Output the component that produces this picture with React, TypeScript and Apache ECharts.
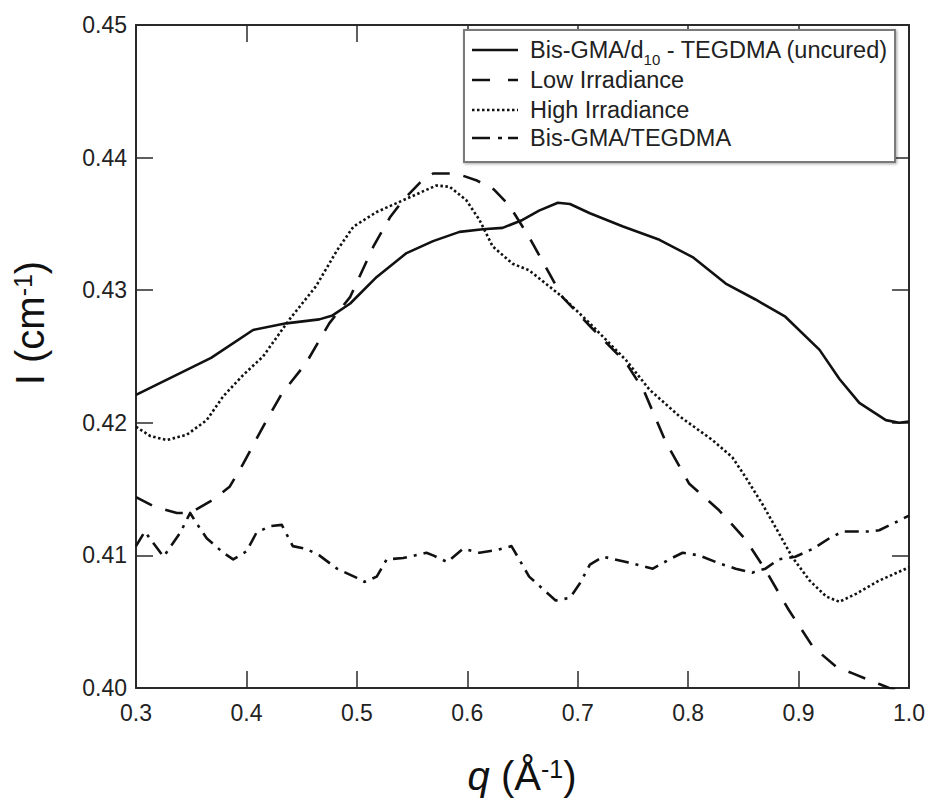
import React, { useEffect, useRef } from "react";
import * as echarts from "echarts";

// q values (Å^-1) and intensities I (cm^-1)
const qUncured = [0.300, 0.368, 0.406, 0.436, 0.466, 0.478, 0.494, 0.518, 0.545, 0.569, 0.593, 0.614, 0.632, 0.650, 0.665, 0.682, 0.693, 0.711, 0.741, 0.774, 0.804, 0.834, 0.861, 0.888, 0.919, 0.937, 0.955, 0.979, 0.991, 1.000];
const iUncured = [0.4221, 0.4249, 0.4270, 0.4275, 0.4278, 0.4281, 0.4290, 0.4310, 0.4328, 0.4337, 0.4344, 0.4346, 0.4347, 0.4353, 0.4360, 0.4366, 0.4365, 0.4358, 0.4348, 0.4338, 0.4325, 0.4305, 0.4293, 0.4280, 0.4255, 0.4233, 0.4215, 0.4202, 0.4200, 0.4201];

const qLow = [0.300, 0.316, 0.337, 0.349, 0.370, 0.385, 0.397, 0.415, 0.432, 0.454, 0.475, 0.494, 0.515, 0.530, 0.542, 0.557, 0.569, 0.590, 0.608, 0.624, 0.638, 0.656, 0.674, 0.686, 0.711, 0.744, 0.760, 0.780, 0.801, 0.828, 0.852, 0.870, 0.891, 0.913, 0.934, 0.949, 0.973, 0.982, 1.000];
const iLow = [0.4144, 0.4137, 0.4132, 0.4132, 0.4142, 0.4152, 0.4169, 0.4197, 0.4222, 0.4245, 0.4275, 0.4295, 0.4333, 0.4355, 0.4368, 0.4381, 0.4388, 0.4388, 0.4383, 0.4376, 0.4364, 0.4340, 0.4313, 0.4295, 0.4273, 0.4245, 0.4224, 0.4185, 0.4154, 0.4134, 0.4112, 0.4089, 0.4059, 0.4031, 0.4016, 0.4011, 0.4003, 0.4000, 0.3996];

const qHigh = [0.300, 0.313, 0.328, 0.346, 0.364, 0.379, 0.397, 0.415, 0.439, 0.463, 0.482, 0.497, 0.518, 0.545, 0.572, 0.584, 0.599, 0.611, 0.623, 0.641, 0.656, 0.686, 0.711, 0.744, 0.765, 0.792, 0.822, 0.840, 0.852, 0.867, 0.882, 0.894, 0.910, 0.925, 0.937, 0.952, 0.973, 1.000];
const iHigh = [0.4197, 0.4190, 0.4187, 0.4191, 0.4202, 0.4220, 0.4236, 0.4250, 0.4278, 0.4303, 0.4330, 0.4348, 0.4359, 0.4369, 0.4379, 0.4378, 0.4368, 0.4353, 0.4333, 0.4320, 0.4315, 0.4295, 0.4275, 0.4247, 0.4225, 0.4205, 0.4187, 0.4174, 0.4159, 0.4139, 0.4117, 0.4099, 0.4081, 0.4069, 0.4065, 0.4071, 0.4081, 0.4091];

const qBase = [0.300, 0.308, 0.316, 0.325, 0.340, 0.349, 0.355, 0.364, 0.379, 0.388, 0.400, 0.409, 0.421, 0.432, 0.442, 0.454, 0.466, 0.482, 0.500, 0.507, 0.518, 0.527, 0.542, 0.563, 0.569, 0.582, 0.596, 0.611, 0.626, 0.640, 0.647, 0.656, 0.668, 0.680, 0.693, 0.702, 0.711, 0.723, 0.744, 0.768, 0.783, 0.795, 0.810, 0.828, 0.843, 0.858, 0.870, 0.882, 0.897, 0.913, 0.928, 0.940, 0.964, 0.973, 0.988, 1.000];
const iBase = [0.4107, 0.4118, 0.4109, 0.4099, 0.4117, 0.4132, 0.4124, 0.4113, 0.4102, 0.4097, 0.4103, 0.4117, 0.4122, 0.4123, 0.4107, 0.4105, 0.4100, 0.4090, 0.4083, 0.4080, 0.4084, 0.4097, 0.4098, 0.4102, 0.4100, 0.4095, 0.4105, 0.4102, 0.4104, 0.4107, 0.4097, 0.4084, 0.4075, 0.4066, 0.4068, 0.4079, 0.4093, 0.4099, 0.4095, 0.4090, 0.4097, 0.4102, 0.4100, 0.4094, 0.4090, 0.4087, 0.4090, 0.4097, 0.4099, 0.4105, 0.4113, 0.4118, 0.4118, 0.4119, 0.4125, 0.4130];

const seriesNames = ["Bis-GMA/d10 - TEGDMA (uncured)", "Low Irradiance", "High Irradiance", "Bis-GMA/TEGDMA"];

const FONT = "'Liberation Sans', Arial, Helvetica, sans-serif";

function pairs(q: number[], v: number[]) {
  return q.map((x, i) => [x, v[i]]);
}

export default function App() {
  const ref = useRef<HTMLDivElement>(null);
  useEffect(() => {
    document.body.style.margin = "0";
    const chart = echarts.init(ref.current!, null, { renderer: "svg" });
    const axisLine = { show: true, lineStyle: { color: "#2a2a2a", width: 2 } };
    const tick = { show: true, inside: true, length: 17, lineStyle: { color: "#2a2a2a", width: 1.5 } };
    const lineCol = "#111";
    const legendRows = [50, 80, 110, 138];
    const lx1 = 472, lx2 = 518, ltx = 530;
    const dashes: any[] = [null, [18, 18], [2.5, 2.5], [18, 8, 4, 6]];
    const legendGraphics: any[] = [
      {
        type: "rect",
        z: 100,
        shape: { x: 464, y: 30, width: 431, height: 132 },
        style: { fill: "#fff", stroke: "#7a7a7a", lineWidth: 2, shadowBlur: 3, shadowColor: "rgba(0,0,0,0.35)", shadowOffsetX: 1, shadowOffsetY: 1 },
      },
    ];
    legendRows.forEach((y, i) => {
      legendGraphics.push({
        type: "line",
        z: 101,
        shape: { x1: lx1, y1: y, x2: lx2, y2: y },
        style: { stroke: lineCol, lineWidth: 2.5, lineDash: dashes[i] || undefined, lineCap: "butt" },
      });
      const txt = i === 0 ? "{a|Bis-GMA/d}{s|10}{a| - TEGDMA (uncured)}" : `{a|${seriesNames[i]}}`;
      legendGraphics.push({
        type: "text",
        z: 101,
        x: ltx,
        y: i === 0 ? y + 2 : y,
        style: {
          text: txt,
          fill: "#222",
          font: `23.5px ${FONT}`,
          verticalAlign: "middle",
          align: "left",
          rich: {
            a: { fontSize: 23.5, fontFamily: FONT, fill: "#222", lineHeight: i === 0 ? 30 : 24, padding: i === 0 ? [0, 0, 4, 0] : 0 },
            s: { fontSize: 15, fontFamily: FONT, fill: "#222", lineHeight: 15, verticalAlign: "bottom" },
          },
        },
      });
    });

    const option: any = {
      animation: false,
      backgroundColor: "#fff",
      grid: { left: 136, right: 18, top: 25, bottom: 110, containLabel: false },
      xAxis: [
        {
          type: "value",
          min: 0.3,
          max: 1.0,
          interval: 0.1,
          position: "bottom",
          axisLine,
          axisTick: tick,
          splitLine: { show: false },
          axisLabel: { color: "#222", fontSize: 23, fontFamily: FONT, margin: 13, formatter: (v: number) => v.toFixed(1) },
        },
        {
          type: "value",
          min: 0.3,
          max: 1.0,
          interval: 0.1,
          position: "top",
          axisLine,
          axisTick: tick,
          splitLine: { show: false },
          axisLabel: { show: false },
        },
      ],
      yAxis: [
        {
          type: "value",
          min: 0.4,
          max: 0.45,
          interval: 0.01,
          position: "left",
          axisLine,
          axisTick: tick,
          splitLine: { show: false },
          axisLabel: { color: "#222", fontSize: 23, fontFamily: FONT, margin: 9, formatter: (v: number) => v.toFixed(2) },
        },
        {
          type: "value",
          min: 0.4,
          max: 0.45,
          interval: 0.01,
          position: "right",
          axisLine,
          axisTick: tick,
          splitLine: { show: false },
          axisLabel: { show: false },
        },
      ],
      series: [
        { name: seriesNames[0], data: pairs(qUncured, iUncured), lineStyle: { type: "solid" } },
        { name: seriesNames[1], data: pairs(qLow, iLow), lineStyle: { type: [18, 14] } },
        { name: seriesNames[2], data: pairs(qHigh, iHigh), lineStyle: { type: [2.5, 2.5] } },
        { name: seriesNames[3], data: pairs(qBase, iBase), lineStyle: { type: [14, 7, 3, 7] } },
      ].map((s) => ({
        type: "line",
        xAxisIndex: 0,
        yAxisIndex: 0,
        showSymbol: false,
        symbol: "none",
        clip: true,
        ...s,
        lineStyle: { color: lineCol, width: 2.6, cap: "butt", join: "round", ...s.lineStyle },
      })),
      graphic: [
        ...legendGraphics,
        {
          type: "text",
          z: 100,
          x: 522,
          y: 776,
          style: {
            text: "{i|q}{n| (Å}{p|-1}{n|)}",
            align: "center",
            verticalAlign: "middle",
            fill: "#111",
            font: `40px ${FONT}`,
            rich: {
              i: { fontSize: 40, fontStyle: "italic", fontFamily: FONT, fill: "#111", lineHeight: 40 },
              n: { fontSize: 40, fontFamily: FONT, fill: "#111", lineHeight: 40 },
              p: { fontSize: 25, fontFamily: FONT, fill: "#111", lineHeight: 25, verticalAlign: "top" },
            },
          },
        },
        {
          type: "text",
          z: 100,
          x: 30,
          y: 323,
          rotation: Math.PI / 2,
          style: {
            text: "{n|I (cm}{p|-1}{n|)}",
            align: "center",
            verticalAlign: "middle",
            fill: "#111",
            font: `40px ${FONT}`,
            rich: {
              n: { fontSize: 40, fontFamily: FONT, fill: "#111", lineHeight: 40 },
              p: { fontSize: 25, fontFamily: FONT, fill: "#111", lineHeight: 25, verticalAlign: "top" },
            },
          },
        },
      ],
    };
    chart.setOption(option);
    return () => chart.dispose();
  }, []);
  return <div ref={ref} style={{ position: "fixed", left: 0, top: 0, width: 928, height: 798, background: "#fff" }} />;
}
